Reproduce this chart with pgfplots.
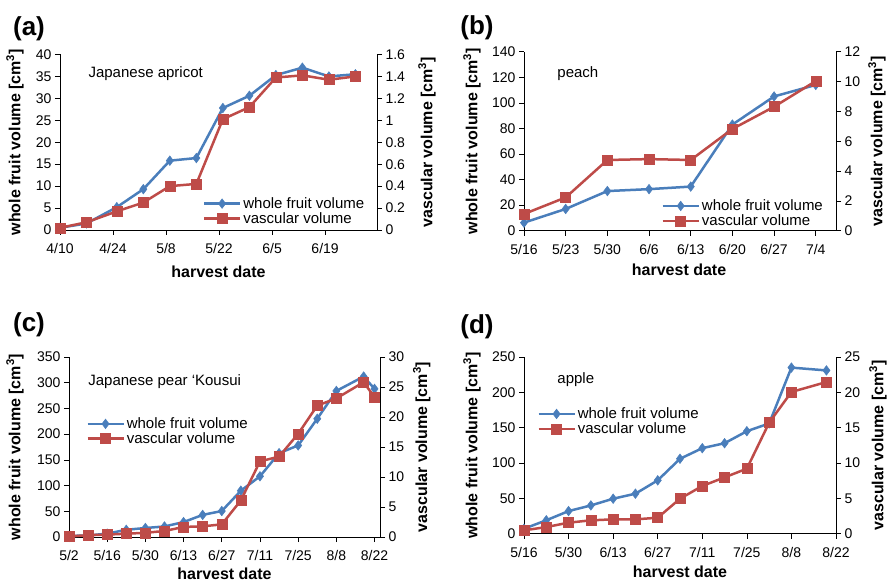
\documentclass[border=0pt]{standalone}
\usepackage{fontspec}
\setmainfont{Liberation Sans}
\usepackage{pgfplots}
\pgfplotsset{compat=1.18}
\definecolor{wblue}{HTML}{4A7EBB}
\definecolor{vred}{HTML}{BE4B48}
\tikzset{annot/.style={anchor=west, font=\fontsize{15bp}{17bp}\selectfont}}
\pgfplotsset{
  common/.style={scale only axis, anchor=south west, tick align=outside, major tick length=5bp,
    every tick/.style={black, line width=0.6bp},
    axis line style={black, line width=0.75bp},
    ticklabel style={font=\fontsize{14bp}{16bp}\selectfont},
    xticklabel shift=5bp,
    /pgf/number format/assume math mode=true,
    label style={font=\bfseries\fontsize{16bp}{18bp}\selectfont},
    clip=false},
  leftax/.style={common, axis y line*=left, axis x line*=bottom},
  rightax/.style={common, axis y line*=right, axis x line=none,
    legend style={draw=none, fill=none, font=\fontsize{15bp}{17bp}\selectfont,
      cells={anchor=west}, row sep=-1.5bp, inner sep=0pt},
    legend image code/.code={\draw[mark repeat=2, mark phase=2, ##1] plot coordinates {(0bp,0bp) (18bp,0bp) (36bp,0bp)};}},
  wstyle/.style={wblue, line width=2.5bp, mark=diamond*, mark size=4.8bp, mark options={solid, fill=wblue, line width=0.5bp}},
  vstyle/.style={vred, line width=2.5bp, mark=square*, mark size=5bp, mark options={solid, fill=vred, line width=0.5bp}},
}
\newcommand{\wlab}{whole fruit volume [cm\textsuperscript{3}]}
\newcommand{\vlab}{vascular volume [cm\textsuperscript{3}]}
\begin{document}
\begin{tikzpicture}
\useasboundingbox (0,0) rectangle (888bp,584bp);
% ---------------- (a)
\node[font=\bfseries\fontsize{26bp}{30bp}\selectfont] at (29bp,555bp) {(a)};
\begin{axis}[leftax, at={(60bp,354bp)}, width=317bp, height=175.5bp,
  xmin=0, xmax=83.7, ymin=0, ymax=40, ytick={0,5,10,15,20,25,30,35,40},
  xtick={0,14,28,42,56,70}, xticklabels={4/10,4/24,5/8,5/22,6/5,6/19},
  ylabel={\wlab}, ylabel style={at={(axis description cs:-0.142,0.5)}, anchor=center},
  xlabel={harvest date}, xlabel style={at={(axis description cs:0.5,-0.239)}, anchor=center}]
\addplot[wstyle] coordinates {(0,0.5) (7,1.5) (15,5.2) (22,9.3) (29,15.8) (36,16.4) (43,27.8) (50,30.6) (57,35.3) (64,37.0) (71,35.0) (78,35.5)};
\node[annot] at (rel axis cs:0.079,0.889) {Japanese apricot};
\end{axis}
\begin{axis}[rightax, at={(60bp,354bp)}, width=317bp, height=175.5bp,
  xmin=0, xmax=83.7, ymin=0, ymax=1.6, ytick={0,0.2,0.4,0.6,0.8,1,1.2,1.4,1.6},
  ylabel={\vlab}, ylabel style={at={(axis description cs:1.158,0.5)}, anchor=center},
  legend style={at={(rel axis cs:0.45,0.198)}, anchor=north west}]
\addlegendimage{wstyle}\addlegendentry{whole fruit volume}
\addplot[vstyle] coordinates {(0,0.02) (7,0.07) (15,0.17) (22,0.25) (29,0.40) (36,0.42) (43,1.01) (50,1.12) (57,1.39) (64,1.41) (71,1.37) (78,1.40)};
\addlegendentry{vascular volume}
\end{axis}
% ---------------- (b)
\node[font=\bfseries\fontsize{26bp}{30bp}\selectfont] at (477bp,556bp) {(b)};
\begin{axis}[leftax, at={(524bp,353.3bp)}, width=312bp, height=179bp,
  xmin=0, xmax=52.4, ymin=0, ymax=140, ytick={0,20,40,60,80,100,120,140},
  xtick={0,7,14,21,28,35,42,49}, xticklabels={5/16,5/23,5/30,6/6,6/13,6/20,6/27,7/4},
  ylabel={\wlab}, ylabel style={at={(axis description cs:-0.167,0.5)}, anchor=center},
  xlabel={harvest date}, xlabel style={at={(axis description cs:0.497,-0.22)}, anchor=center}]
\addplot[wstyle] coordinates {(0,6.3) (7,17) (14,31) (21,32.5) (28,34.5) (35,83) (42,105) (49,114)};
\node[annot] at (rel axis cs:0.096,0.875) {peach};
\end{axis}
\begin{axis}[rightax, at={(524bp,353.3bp)}, width=312bp, height=179bp,
  xmin=0, xmax=52.4, ymin=0, ymax=12, ytick={0,2,4,6,8,10,12},
  ylabel={\vlab}, ylabel style={at={(axis description cs:1.131,0.5)}, anchor=center},
  legend style={at={(rel axis cs:0.44,0.185)}, anchor=north west}]
\addlegendimage{wstyle}\addlegendentry{whole fruit volume}
\addplot[vstyle] coordinates {(0,1.12) (7,2.23) (14,4.74) (21,4.8) (28,4.74) (35,6.82) (42,8.31) (49,10.03)};
\addlegendentry{vascular volume}
\end{axis}
% ---------------- (c)
\node[font=\bfseries\fontsize{26bp}{30bp}\selectfont] at (29bp,259bp) {(c)};
\begin{axis}[leftax, at={(69bp,47bp)}, width=311bp, height=180bp,
  xmin=0, xmax=114, ymin=0, ymax=350, ytick={0,50,100,150,200,250,300,350},
  xtick={0,14,28,42,56,70,84,98,112}, xticklabels={5/2,5/16,5/30,6/13,6/27,7/11,7/25,8/8,8/22},
  ylabel={\wlab}, ylabel style={at={(axis description cs:-0.174,0.5)}, anchor=center},
  xlabel={harvest date}, xlabel style={at={(axis description cs:0.5,-0.205)}, anchor=center}]
\addplot[wstyle] coordinates {(0,2) (7,3) (14,6.5) (21,14) (28,17.5) (35,20.5) (42,29) (49,43) (56,50.5) (63,90) (70,118) (77,163) (84,178) (91,230) (98,284) (108,312) (112,288)};
\node[annot] at (rel axis cs:0.051,0.861) {Japanese pear ‘Kousui};
\end{axis}
\begin{axis}[rightax, at={(69bp,47bp)}, width=311bp, height=180bp,
  xmin=0, xmax=114, ymin=0, ymax=30, ytick={0,5,10,15,20,25,30},
  ylabel={\vlab}, ylabel style={at={(axis description cs:1.134,0.5)}, anchor=center},
  legend style={at={(rel axis cs:0.055,0.675)}, anchor=north west}]
\addlegendimage{wstyle}\addlegendentry{whole fruit volume}
\addplot[vstyle] coordinates {(0,0.1) (7,0.3) (14,0.4) (21,0.55) (28,0.7) (35,1.0) (42,1.67) (49,1.78) (56,2.1) (63,6.1) (70,12.6) (77,13.4) (84,17.2) (91,21.9) (98,23.1) (108,25.8) (112,23.3)};
\addlegendentry{vascular volume}
\end{axis}
% ---------------- (d)
\node[font=\bfseries\fontsize{26bp}{30bp}\selectfont] at (477bp,257bp) {(d)};
\begin{axis}[leftax, at={(524bp,50.3bp)}, width=312bp, height=176.7bp,
  xmin=0, xmax=98, ymin=0, ymax=250, ytick={0,50,100,150,200,250},
  xtick={0,14,28,42,56,70,84,98}, xticklabels={5/16,5/30,6/13,6/27,7/11,7/25,8/8,8/22},
  ylabel={\wlab}, ylabel style={at={(axis description cs:-0.167,0.5)}, anchor=center},
  xlabel={harvest date}, xlabel style={at={(axis description cs:0.5,-0.217)}, anchor=center}]
\addplot[wstyle] coordinates {(0,7) (7,19) (14,32) (21,40) (28,49.5) (35,56.6) (42,75.5) (49,106) (56,121) (63,128) (70,145) (77,156) (84,235) (95,231)};
\node[annot] at (rel axis cs:0.096,0.87) {apple};
\end{axis}
\begin{axis}[rightax, at={(524bp,50.3bp)}, width=312bp, height=176.7bp,
  xmin=0, xmax=98, ymin=0, ymax=25, ytick={0,5,10,15,20,25},
  ylabel={\vlab}, ylabel style={at={(axis description cs:1.135,0.5)}, anchor=center},
  legend style={at={(rel axis cs:0.042,0.725)}, anchor=north west}]
\addlegendimage{wstyle}\addlegendentry{whole fruit volume}
\addplot[vstyle] coordinates {(0,0.47) (7,0.94) (14,1.56) (21,1.89) (28,2.03) (35,2.03) (42,2.26) (49,4.95) (56,6.75) (63,7.97) (70,9.2) (77,15.7) (84,20.05) (95,21.46)};
\addlegendentry{vascular volume}
\end{axis}
\end{tikzpicture}
\end{document}
